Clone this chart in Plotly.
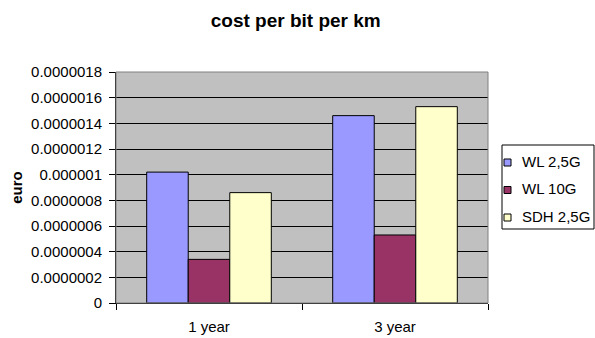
import plotly.graph_objects as go

categories = ["1 year", "3 year"]
series_names = ["WL 2,5G", "WL 10G", "SDH 2,5G"]
wl_25g = [0.00000102, 0.00000146]
wl_10g = [0.00000034, 0.00000053]
sdh_25g = [0.00000086, 0.00000153]
colors = ["#9999ff", "#993366", "#ffffcc"]
y_ticks = [0, 0.0000002, 0.0000004, 0.0000006, 0.0000008, 0.000001,
           0.0000012, 0.0000014, 0.0000016, 0.0000018]
y_tick_labels = ["0", "0.0000002", "0.0000004", "0.0000006", "0.0000008",
                 "0.000001", "0.0000012", "0.0000014", "0.0000016", "0.0000018"]

W, H = 595, 338
L, R, T, B = 116, 107, 72, 35
plot_w, plot_h = W - L - R, H - T - B


def px_x(x):
    return (x - L) / plot_w


def px_y(y):
    return (H - B - y) / plot_h


fig = go.Figure()
for name, vals, col in zip(series_names, [wl_25g, wl_10g, sdh_25g], colors):
    fig.add_trace(go.Bar(
        x=categories, y=vals, name=name, showlegend=False,
        marker=dict(color=col, line=dict(color="black", width=1)),
    ))

font = "Liberation Sans, Arial, sans-serif"
fig.update_layout(
    width=W, height=H,
    margin=dict(l=L, r=R, t=T, b=B),
    paper_bgcolor="white",
    plot_bgcolor="#c0c0c0",
    barmode="group",
    bargap=0.33,
    bargroupgap=0,
    font=dict(family=font, size=15, color="black"),
    title=dict(text="<b>cost per bit per km</b>", x=0.497, xanchor="center",
               y=0.94, yanchor="middle", font=dict(size=19, family=font)),
)
fig.update_xaxes(
    type="category", tickson="boundaries", ticks="outside", ticklen=6,
    tickcolor="black", showline=True, linecolor="black", linewidth=1,
    showgrid=False, ticklabelstandoff=10, automargin=False,
)
fig.update_yaxes(
    range=[0, 0.0000018], tickvals=y_ticks, ticktext=y_tick_labels,
    ticks="outside", ticklen=6, tickcolor="black",
    showline=True, linecolor="black", linewidth=1,
    showgrid=True, gridcolor="black", gridwidth=1, zeroline=False,
    ticklabelstandoff=4, automargin=False,
    title=dict(text="<b>euro</b>", font=dict(size=15, family=font), standoff=4),
)
# thin grey frame around the plot area
fig.add_shape(type="rect", xref="paper", yref="paper", x0=0, y0=0, x1=1, y1=1,
              line=dict(color="#808080", width=1), layer="above")

# legend box with small square keys
fig.add_shape(type="rect", xref="paper", yref="paper",
              x0=px_x(502), x1=px_x(594), y0=px_y(229), y1=px_y(145),
              line=dict(color="black", width=1), fillcolor="white")
for i, (name, col) in enumerate(zip(series_names, colors)):
    cy = 161 + 27.5 * i
    fig.add_shape(type="rect", xref="paper", yref="paper",
                  x0=px_x(504), x1=px_x(511), y0=px_y(cy + 5), y1=px_y(cy - 2),
                  line=dict(color="black", width=1), fillcolor=col)
    fig.add_annotation(text=name, xref="paper", yref="paper",
                       x=px_x(520), y=px_y(cy), xanchor="left", yanchor="middle",
                       showarrow=False, font=dict(size=15, family=font))

fig.write_html("out.html")
